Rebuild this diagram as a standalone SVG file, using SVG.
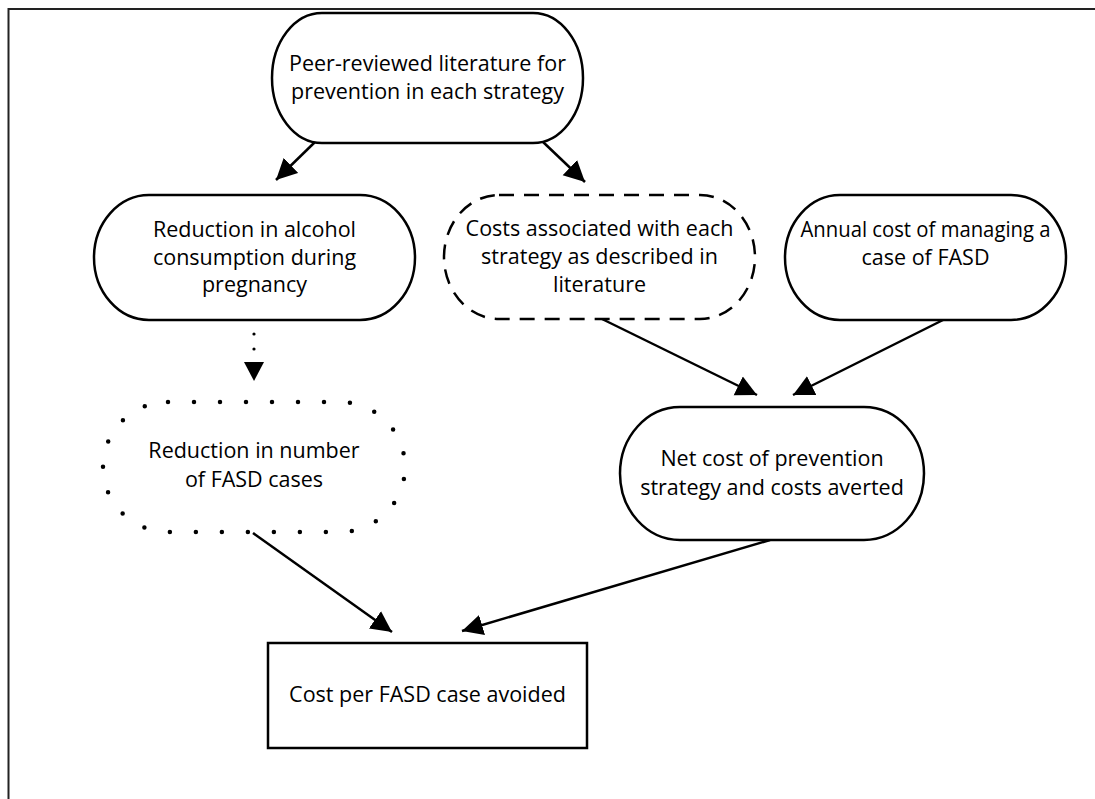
<svg xmlns="http://www.w3.org/2000/svg" width="1095" height="799" viewBox="0 0 1095 799">
<style>
.node{fill:#fff;stroke:#000;stroke-width:2.5}
.dashed{stroke-dasharray:15 10}
.dotted{stroke-width:4.5;stroke-linecap:round;stroke-dasharray:0 26}
.lbl{font-family:"Open Sans","Liberation Sans",sans-serif;font-size:21.5px;fill:#000;text-anchor:middle}
.conn{stroke:#000;stroke-width:2.5;fill:none}
</style>
<defs>
<marker id="ah" markerUnits="userSpaceOnUse" markerWidth="22" markerHeight="22" viewBox="0 0 20 20" refX="19" refY="10" orient="auto">
<path d="M0,0.5 L19,10 L0,19.5 Z" fill="#000"/>
</marker>
</defs>
<rect width="1095" height="799" fill="#fff"/>
<path d="M8.5,799 V9 H1095" fill="none" stroke="#222" stroke-width="2"/>
<g id="connectors">
<line class="conn" x1="315" y1="142" x2="276" y2="180" marker-end="url(#ah)"/>
<line class="conn" x1="542" y1="141" x2="585" y2="182" marker-end="url(#ah)"/>
<circle cx="254" cy="334" r="1.6" fill="#000"/>
<circle cx="254" cy="349" r="1.6" fill="#000"/>
<path d="M244,362 L264,362 L254,381 Z" fill="#000"/>
<line class="conn" x1="600" y1="318" x2="757" y2="395" marker-end="url(#ah)"/>
<line class="conn" x1="943" y1="320" x2="793" y2="395" marker-end="url(#ah)"/>
<line class="conn" x1="253" y1="533" x2="392" y2="632" marker-end="url(#ah)"/>
<line class="conn" x1="770" y1="540" x2="462" y2="631" marker-end="url(#ah)"/>
</g>
<g id="n-literature">
<rect class="node" x="272" y="13" width="311" height="130" rx="50" ry="65"/>
<text class="lbl" x="427.5" y="71">Peer-reviewed literature for</text>
<text class="lbl" x="427.5" y="99">prevention in each strategy</text>
</g>
<g id="n-alcohol">
<rect class="node" x="94" y="195" width="321" height="125" rx="55" ry="62.5"/>
<text class="lbl" x="254.5" y="237">Reduction in alcohol</text>
<text class="lbl" x="254.5" y="265">consumption during</text>
<text class="lbl" x="254.5" y="292">pregnancy</text>
</g>
<g id="n-costs">
<rect class="node dashed" x="444" y="195" width="311" height="124" rx="55" ry="62"/>
<text class="lbl" x="599.5" y="236">Costs associated with each</text>
<text class="lbl" x="599.5" y="264">strategy as described in</text>
<text class="lbl" x="599.5" y="292">literature</text>
</g>
<g id="n-annual">
<rect class="node" x="785" y="195" width="281" height="125" rx="55" ry="62.5"/>
<text class="lbl" x="925.5" y="237" textLength="250" lengthAdjust="spacingAndGlyphs">Annual cost of managing a</text>
<text class="lbl" x="925.5" y="265">case of FASD</text>
</g>
<g id="n-fasd">
<rect class="node dotted" x="103" y="402" width="302" height="130" rx="65" ry="65"/>
<text class="lbl" x="254" y="458">Reduction in number</text>
<text class="lbl" x="254" y="487">of FASD cases</text>
</g>
<g id="n-net">
<rect class="node" x="620" y="407" width="304" height="133" rx="60" ry="66.5"/>
<text class="lbl" x="772" y="466">Net cost of prevention</text>
<text class="lbl" x="772" y="495">strategy and costs averted</text>
</g>
<g id="n-result">
<rect class="node" x="268" y="643" width="319" height="105"/>
<text class="lbl" x="427.5" y="702">Cost per FASD case avoided</text>
</g>
</svg>
